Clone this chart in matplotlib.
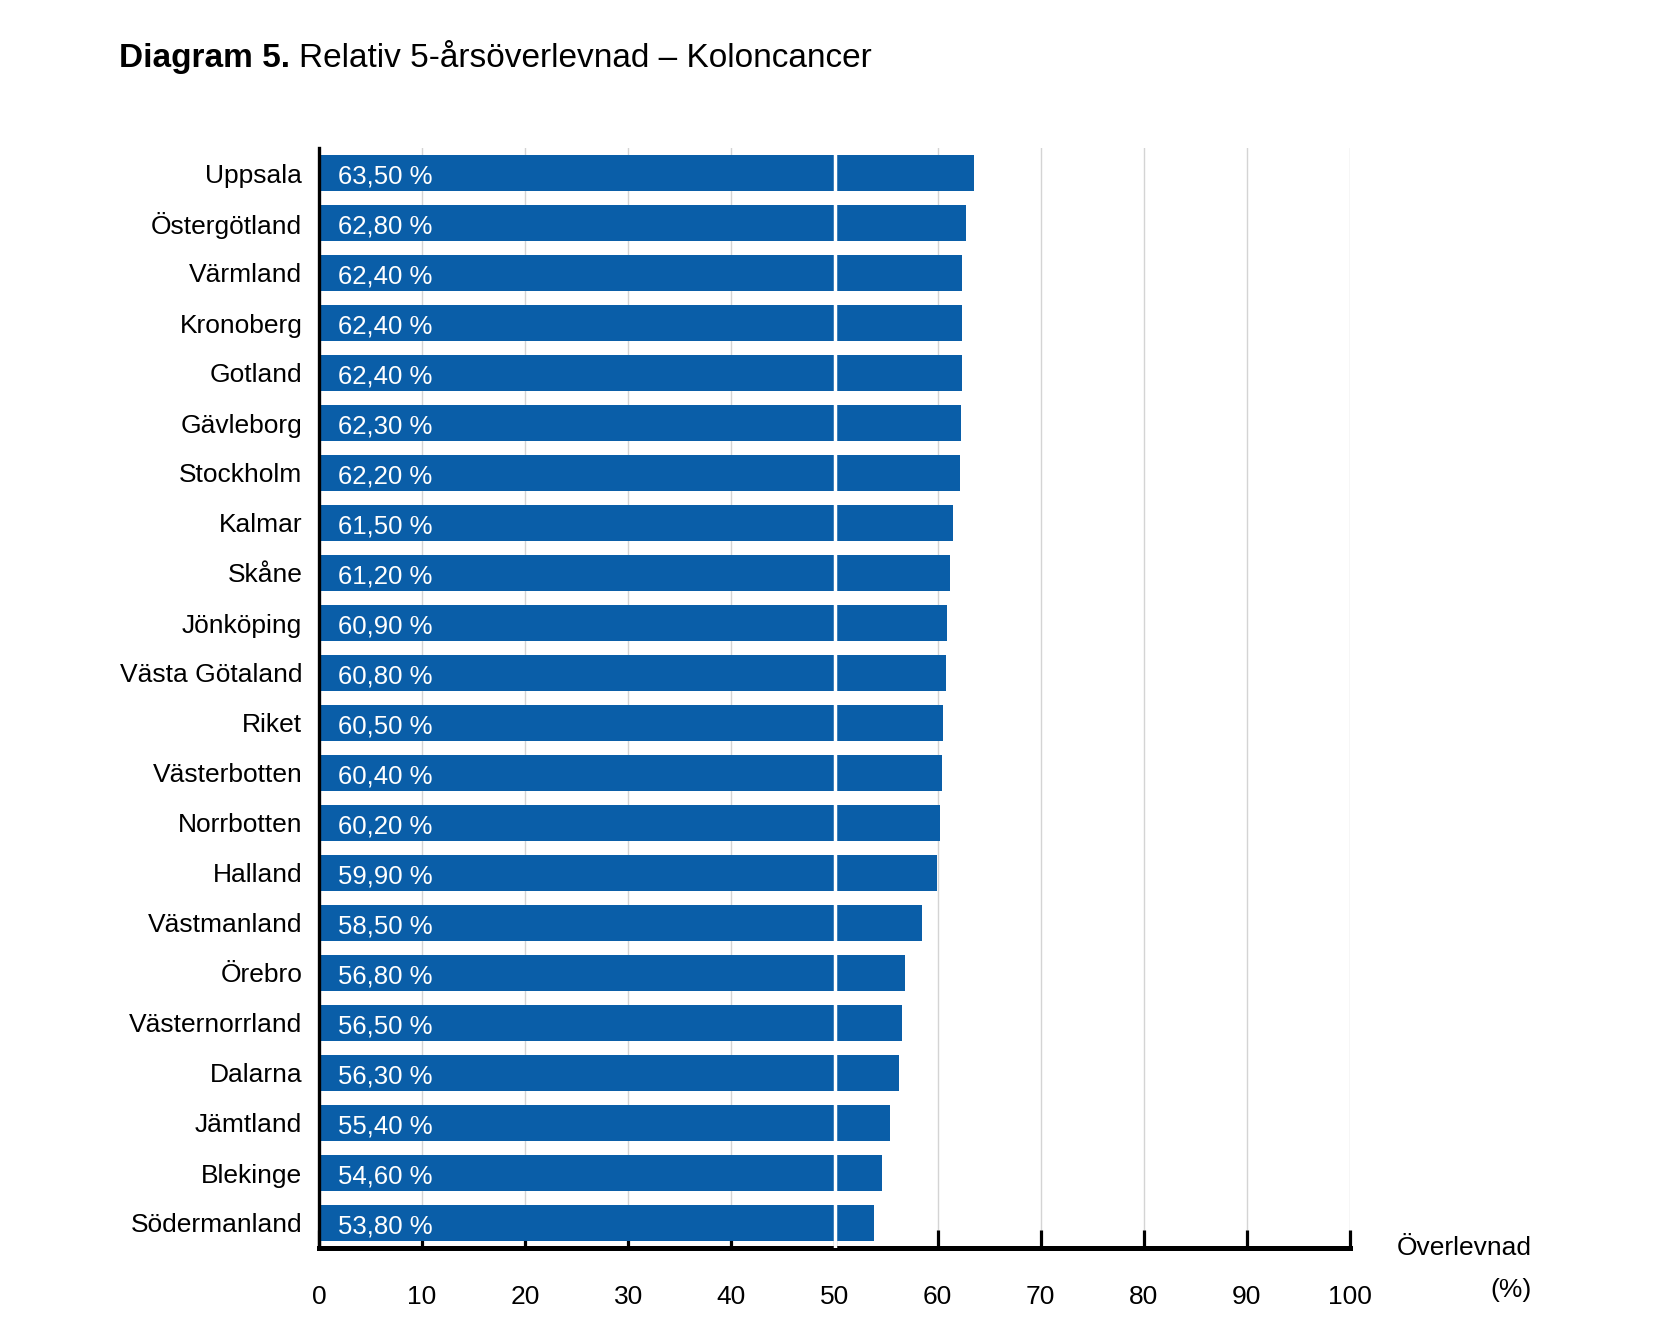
import matplotlib
matplotlib.use("Agg")
import matplotlib.pyplot as plt

plt.rcParams['font.family'] = ['Liberation Sans', 'DejaVu Sans']

# data (top to bottom)
regions = ["Uppsala", "Östergötland", "Värmland", "Kronoberg", "Gotland",
           "Gävleborg", "Stockholm", "Kalmar", "Skåne", "Jönköping",
           "Västa Götaland", "Riket", "Västerbotten", "Norrbotten", "Halland",
           "Västmanland", "Örebro", "Västernorrland", "Dalarna", "Jämtland",
           "Blekinge", "Södermanland"]
survival = [63.5, 62.8, 62.4, 62.4, 62.4, 62.3, 62.2, 61.5, 61.2, 60.9,
            60.8, 60.5, 60.4, 60.2, 59.9, 58.5, 56.8, 56.5, 56.3, 55.4,
            54.6, 53.8]
xticks = list(range(0, 101, 10))

bar_col = "#0a5ea8"
W, H = 1654, 1344
fs = 19

fig = plt.figure(figsize=(W / 100, H / 100), dpi=100)
ax = fig.add_axes([319 / W, 1 - 1248 / H, (1350 - 319) / W, 1100 / H])

ypos = list(range(len(regions)))
ax.barh(ypos, survival, height=0.73, color=bar_col, zorder=2)
for y, v in zip(ypos, survival):
    lab = ("%.2f %%" % v).replace(".", ",")
    ax.annotate(lab, (0, y), xytext=(14, -0.5), textcoords="offset points",
                ha="left", va="center_baseline", color="white", fontsize=18.5,
                zorder=4)

# white divider at 50 across the bars
ax.axvline(50, color="white", linewidth=2.5, zorder=3)

ax.set_xlim(0, 100)
ax.set_ylim(len(regions) - 0.5, -0.5)
ax.set_xticks(xticks)
ax.set_xticklabels([str(t) for t in xticks], fontsize=fs)
ax.set_yticks(ypos)
ax.set_yticklabels(regions, fontsize=fs)
ax.tick_params(axis="x", direction="in", length=13, width=2.3, pad=27)
ax.tick_params(axis="y", length=0, pad=12)
ax.grid(axis="x", color="#d4d4d4", linewidth=1, zorder=1)
ax.set_axisbelow(True)

for s in ["top", "right"]:
    ax.spines[s].set_visible(False)
ax.spines["left"].set_linewidth(2.4)
ax.spines["bottom"].set_linewidth(3.6)

# x-axis title to the right
fig.text(1532 / W, 1 - 1248 / H, "Överlevnad", ha="right", va="center", fontsize=fs)
fig.text(1532 / W, 1 - 1290 / H, "(%)", ha="right", va="center", fontsize=fs)

# title: bold part + regular part
r = fig.canvas.get_renderer()
t1 = fig.text(119 / W, 1 - 67 / H, "Diagram 5.", fontweight="bold", fontsize=24,
              ha="left", va="baseline")
bb = t1.get_window_extent(renderer=r)
fig.text((bb.x1 + 9) / W, 1 - 67 / H, "Relativ 5-årsöverlevnad – Koloncancer",
         fontsize=24, ha="left", va="baseline")

fig.savefig("out.png", dpi=100)
